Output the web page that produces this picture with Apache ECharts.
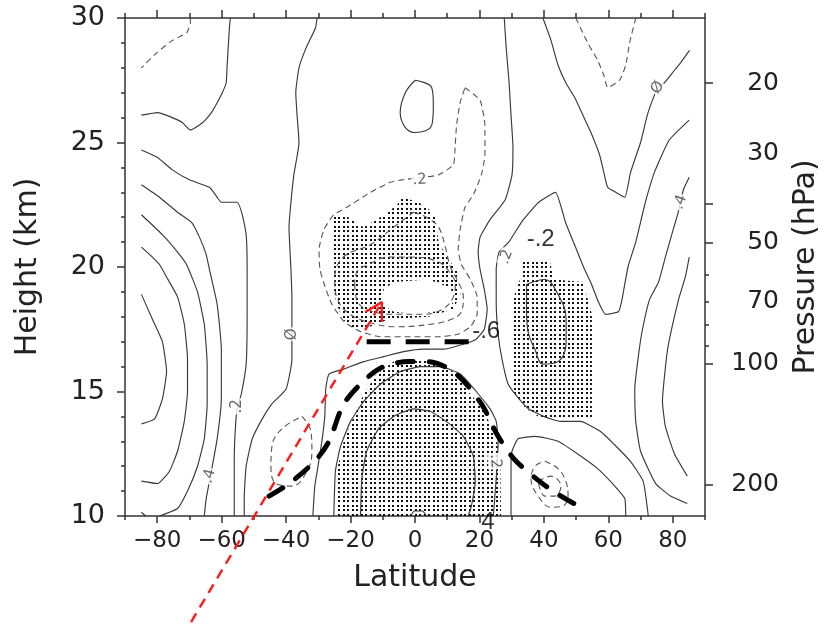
<!DOCTYPE html>
<html><head><meta charset="utf-8">
<script src="https://cdn.jsdelivr.net/npm/echarts@6/dist/echarts.min.js"></script>
<style>html,body{margin:0;padding:0;background:#fff}#c{width:829px;height:624px}</style>
</head><body><div id="c"></div>
<script>
// ================= DATA (latitude in degrees, height in km) =================
const latLabels = [-80, -60, -40, -20, 0, 20, 40, 60, 80];
const latMajorTicks = [-80, -60, -40, -20, 0, 20, 40, 60, 80];
const latMinorTicks = [-90, -70, -50, -30, -10, 10, 30, 50, 70, 90];
const pressureLabels = [20, 30, 50, 70, 100, 200];      // hPa
const pressureMajorTicks = [20, 40, 50, 100, 200];      // hPa
const pressureMinorTicks = [60, 70, 80, 90];            // hPa
const scaleHeightKm = 7;

// solid contours
const c0West = [[-57.3,30],[-57.6,29.6],[-58.3,28.1],[-58.6,27.4],[-59.8,27.0],[-61.4,26.6],[-63.2,26.2],[-65.1,25.9],[-66.9,25.7],[-69.7,25.5],[-72.2,25.8],[-75.3,26.0],[-79.9,26.2],[-84.9,26.1]];
const c02West = [[-84.9,24.7],[-79.9,24.4],[-75.3,23.9],[-70.0,23.5],[-63.8,23.2],[-61.4,22.8],[-60.1,22.6],[-55.2,22.6],[-53.6,22.1],[-52.4,21.3],[-52.1,19.9],[-52.1,18.1],[-52.4,16.1],[-53.9,14.9],[-55.2,14.3],[-55.8,13.4],[-56.1,12.2],[-56.1,10]];
const c04West = [[-84.9,23.3],[-79.3,22.8],[-73.7,22.2],[-69.4,21.8],[-66.9,21.2],[-64.8,20.5],[-63.8,19.9],[-61.4,18.5],[-60.1,16.7],[-60.1,14.7],[-61.4,13.1],[-63.2,11.8],[-64.8,10.7],[-65.4,10]];
const c06West = [[-84.9,22.1],[-78.4,21.3],[-73.7,20.6],[-70.9,20.1],[-67.5,19.0],[-65.4,17.7],[-64.5,16.1],[-64.5,14.5],[-65.4,13.1],[-67.5,12.0],[-70.6,11.0],[-73.7,10.3],[-79.3,10]];
const c08West = [[-84.9,20.8],[-81.5,20.4],[-79.3,20.1],[-77.1,19.6],[-73.7,18.8],[-71.6,17.7],[-70.6,16.3],[-70.6,15.0],[-71.6,13.8],[-73.7,12.6],[-76.2,11.8],[-79.9,11.3],[-84.9,11.4]];
const c10West = [[-84.9,18.9],[-81.5,17.9],[-78.4,17.0],[-77.1,15.8],[-78.4,14.7],[-80.8,13.9],[-84.9,13.7]];
const c06Corner = [[-84.9,10.15],[-83.6,10]];
const c0Central = [[-30.4,30],[-30.9,29.6],[-33.8,28.8],[-36.0,28.0],[-37.0,27.0],[-36.6,26.1],[-36.0,25.0],[-37.6,23.7],[-38.5,22.6],[-39.1,21.6],[-38.5,19.9],[-38.2,18.8],[-38.2,17.4],[-38.2,16.3],[-40.0,15.1],[-44.4,14.5],[-47.4,13.9],[-50.5,13.1],[-52.4,12.0],[-53.0,10.7],[-53.0,10]];
const cTopLoop = [[0.1,27.5],[5.2,27.2],[5.7,26.5],[5.2,25.7],[0.1,25.4],[-3.0,25.6],[-4.6,26.2],[-3.0,27.0],[0.1,27.5]];
const c0Dome = [[27.7,30],[28.3,28.8],[29.2,27.4],[29.8,26.1],[30.4,24.8],[30.1,23.7],[28.0,22.7],[23.3,21.9],[20.2,21.2],[19.6,20.6],[20.2,19.9],[21.5,19.1],[22.4,18.3],[21.5,17.5],[19.0,17.1],[15.0,16.9],[8.8,16.7],[2.6,16.7],[-3.6,16.6],[-9.7,16.4],[-15.9,16.2],[-22.1,15.9],[-26.7,15.7],[-27.7,15.1],[-28.0,14.0],[-28.9,13.0],[-30.1,12.0],[-31.1,11.2],[-31.7,10]];
const c02Dome = [[-25.2,10],[-24.7,11.8],[-23.1,12.8],[-20.0,13.8],[-15.9,14.6],[-10.7,15.3],[-4.5,15.8],[1.7,16.0],[7.9,16.0],[14.1,15.7],[19.0,15.0],[23.3,14.3],[25.2,13.8],[25.8,13.0],[25.2,11.5],[24.3,10]];
const c04Dome = [[-16.9,10],[-16.5,11.5],[-15.0,12.6],[-11.3,13.5],[-6.6,14.0],[-0.5,14.3],[4.8,14.2],[9.7,13.8],[15.0,13.2],[18.1,12.4],[18.7,11.4],[17.5,10.4],[16.5,10]];
const c06Bump = [[-1.4,10],[-0.2,10.2],[2.3,10.2],[3.6,10]];
const c02East = [[85.1,25.9],[78.9,25.1],[74.3,23.8],[71.5,22.6],[68.5,21.0],[66.1,20.0],[64.1,18.6],[63.1,18.2],[59.1,18.1],[56.9,18.6],[54.8,19.3],[52.3,20.0],[49.8,20.8],[46.7,21.8],[43.6,23.0],[38.4,22.6],[33.6,21.9],[29.1,21.0],[26.1,20.6],[25.2,19.9],[25.2,18.6],[25.8,17.3],[27.0,16.3],[28.9,15.3],[32.3,14.7],[35.3,14.3],[39.9,14.0],[45.1,13.8],[51.3,13.8],[57.5,13.4],[62.4,12.8],[66.8,12.2],[70.8,11.4],[72.4,10]];
const c0East = [[39.7,30],[42.2,29.1],[44.4,28.1],[46.8,27.4],[49.6,26.8],[52.1,26.1],[54.6,25.4],[57.3,24.5],[58.6,23.8],[59.8,23.2],[62.3,23.0],[65.1,22.8],[66.9,23.8],[70.0,25.0],[72.1,26.1],[73.7,26.7],[75.3,27.2],[77.4,27.4],[79.9,27.8],[82.4,28.2],[85.2,28.7]];
const c04East = [[85.1,23.6],[83.3,23.1],[82.4,22.6],[81.5,22.1],[79.9,21.4],[77.7,20.4],[75.6,19.4],[72.8,18.7],[70.6,17.5],[69.4,16.5],[68.2,15.1],[68.5,13.8],[70.0,12.6],[74.7,11.3],[79.3,10.8],[84.5,10.5]];
const c06East = [[85.1,20.4],[83.9,19.6],[81.8,18.7],[78.4,16.7],[76.8,14.6],[77.7,13.6],[80.5,12.5],[84.5,11.6]];
const c0LowerEast = [[29.8,10],[29.8,12.0],[30.1,12.6],[32.0,13.1],[37.3,13.2],[44.4,13.0],[51.5,12.4],[56.7,11.9],[62.0,11.2],[65.1,10.7],[65.4,10]];
const c04EastLoop = [[34.6,19.3],[40.2,19.5],[44.4,18.9],[46.9,17.9],[46.9,17.0],[44.4,16.2],[39.7,16.1],[37.2,16.7],[35.1,17.4],[34.6,18.3],[34.6,19.3]];

// dashed (negative) contours
const m02TopWest = [[-69.7,30],[-69.7,29.8],[-70.9,29.4],[-75.3,29.1],[-80.2,28.6],[-84.9,28.0]];
const m02TopEast = [[49.9,30],[53.6,29.0],[56.7,28.3],[58.6,27.7],[59.8,27.2],[63.5,27.5],[65.4,28.1],[66.6,29.0],[68.5,30]];
const m02West = [[-35.1,14.0],[-32.3,13.4],[-32.0,12.6],[-33.5,11.8],[-38.2,11.2],[-43.1,11.3],[-44.7,11.9],[-44.4,12.8],[-41.3,13.5],[-35.1,14.0]];
const m02Central = [[15.5,27.2],[20.2,26.7],[21.7,25.7],[21.7,24.5],[20.6,23.7],[18.1,22.9],[15.5,22.4],[14.0,21.5],[13.4,20.7],[14.4,20.1],[17.2,19.5],[19.3,18.8],[19.3,18.1],[17.2,17.6],[13.4,17.3],[7.3,17.2],[-2.0,17.2],[-10.7,17.2],[-16.8,17.4],[-22.0,17.8],[-25.8,18.5],[-27.9,19.2],[-29.5,19.9],[-29.8,20.7],[-28.3,21.5],[-25.2,22.1],[-21.1,22.4],[-13.8,23.0],[-7.7,23.4],[-4.1,23.5],[2.6,23.6],[7.3,23.7],[11.9,24.1],[12.4,24.7],[12.9,25.7],[14.0,26.6],[15.5,27.2]];
const m04Central = [[-0.5,22.2],[3.5,22.0],[7.3,21.6],[9.4,20.8],[11.0,20.0],[13.4,19.4],[15.0,18.8],[14.4,18.2],[11.3,17.9],[4.8,17.7],[-5.7,17.6],[-15.0,17.8],[-21.2,18.2],[-24.3,18.8],[-24.9,19.4],[-24.3,20.0],[-21.2,20.5],[-13.8,20.9],[-6.6,21.6],[-0.5,22.2]];
const m06Central = [[-18.7,19.3],[-17.8,18.6],[-12.8,18.2],[-5.7,18.1],[2.6,18.1],[8.5,18.3],[11.9,18.8],[12.5,19.3],[10.7,19.8],[7.3,20.2],[-0.5,20.4],[-8.2,20.4],[-14.4,20.1],[-18.1,19.8],[-18.7,19.3]];
const m02East = [[40.3,12.2],[44.4,11.9],[46.8,11.4],[47.5,10.8],[45.9,10.4],[42.2,10.35],[38.2,10.8],[36.0,11.5],[37.3,12.0],[40.3,12.2]];
const m04East = [[38.2,11.4],[42.2,11.6],[45.3,11.2],[43.4,10.8],[40.3,10.8],[38.2,11.4]];

// stippled (significant) regions and unstippled hole
const stippleNorthWest = [[-25.8,22.0],[-22.0,22.1],[-16.0,21.6],[-9.5,22.1],[-5.5,22.5],[-3.9,22.8],[1.1,22.6],[4.5,22.3],[6.3,22.0],[7.3,21.0],[10.4,20.3],[13.4,19.8],[14.1,18.9],[11.9,18.3],[4.2,18.0],[-8.2,17.9],[-14.0,17.6],[-19.0,17.5],[-22.5,17.9],[-24.3,18.5],[-25.5,19.3],[-25.0,20.2],[-25.8,21.0]];
const stippleHole = [[-9.7,19.1],[-6.6,19.4],[4.2,19.5],[10.4,19.2],[12.8,18.8],[10.4,18.3],[1.1,18.1],[-6.6,18.2],[-10.4,18.5]];
const stippleEast = [[33.5,20.2],[41.9,20.2],[43.1,19.5],[52.1,19.4],[53.6,18.7],[54.9,18.1],[54.9,13.9],[44.4,13.9],[38.2,14.0],[34.5,14.3],[30.8,14.9],[29.8,17.1],[30.4,18.7],[32.6,19.5]];
const stippleTropics = [[-24.3,10],[-24.3,11.8],[-22.1,13.0],[-19.0,14.0],[-15.9,14.9],[-11.9,15.7],[-6.6,16.2],[0.5,16.3],[7.3,16.2],[12.8,15.7],[16.5,15.0],[21.2,14.3],[24.3,13.4],[26.4,12.6],[26.7,10]];

// tropopause-like thick dashed markers
const thickArc = [[-45.3,10.8],[-39.1,11.3],[-31.1,12.2],[-26.7,13.0],[-22.1,14.5],[-15.3,15.5],[-9.7,16.0],[-2.0,16.2],[4.2,16.2],[12.8,15.7],[20.6,14.5],[25.8,13.2],[31.4,12.2],[42.8,11.0],[53.6,10.2]];
const thickLevel = [[-15.0,17.0],[17.2,17.0]];

// red arrow
const redArrowLine = [[-69.5,5.74],[-10.3,18.59]];
const redArrowHead = [[-15.4,18.19],[-10.3,18.59],[-10.3,17.79]];

// contour labels [text, lat, km]
const contourLabels = [['Ø',-38.2,17.3],['.2',-55.1,14.4],['.4',-63.8,11.6],['.2',1.4,23.5],['Ø',75.3,27.2],['.4',82.4,22.6],['.2',24.9,12.2],['.2',28.3,20.4]];
// annotation texts [text, lat, km]
const annotations = [['-.2',39.0,21.1],['-.6',22.1,17.4],['4',22.6,9.73]];

// ================= STYLE / BUILD =================
const labelRotate = [90, 90, 75, 4, 55, 70, -85, 70];
const solidSet = [c0West,c02West,c04West,c06West,c08West,c10West,c06Corner,c0Central,cTopLoop,c0Dome,c02Dome,c04Dome,c06Bump,c02East,c0East,c04East,c06East,c0LowerEast,c04EastLoop];
const dashedSet = [m02TopWest,m02TopEast,m02West,m02Central,m04Central,m06Central,m02East,m04East];
const loopSet = new Set([cTopLoop,c04EastLoop,m02West,m06Central,m04Central,m02East,m04East]);

const kmOfP = p => scaleHeightKm * Math.log(1000 / p);
const font = 'DejaVu Sans';

function contour(data, dashed) {
  return {
    type: 'line', data: data, showSymbol: false, silent: true, z: 3,
    smooth: loopSet.has(data) ? 0.4 : 0.15,
    lineStyle: dashed ? {color: '#555', width: 1.1, type: [6, 4]} : {color: '#3a3a3a', width: 1.15}
  };
}

const dotCanvas = document.createElement('canvas');
dotCanvas.width = 9; dotCanvas.height = 9;
(function () {
  const g = dotCanvas.getContext('2d'); g.fillStyle = '#111';
  g.fillRect(1, 1, 2, 2); g.fillRect(5, 1, 2, 2); g.fillRect(1, 5, 2, 2); g.fillRect(5, 5, 2, 2);
})();
const dotPattern = {image: dotCanvas, repeat: 'repeat'};

function polySeries(polys, fill, z) {
  return {
    type: 'custom', silent: true, z: z, clip: true,
    data: polys.map(p => p[0]),
    renderItem: function (params, api) {
      const poly = polys[params.dataIndex];
      return {type: 'polygon', shape: {points: poly.map(pt => api.coord(pt))}, style: {fill: fill}};
    }
  };
}

const series = [];
series.push(polySeries([stippleNorthWest, stippleEast, stippleTropics], dotPattern, 1));
series.push(polySeries([stippleHole], '#fff', 2));
solidSet.forEach(d => series.push(contour(d, false)));
dashedSet.forEach(d => series.push(contour(d, true)));
series.push({type: 'line', data: thickArc, showSymbol: false, silent: true, z: 4, smooth: 0.3,
  lineStyle: {color: '#000', width: 5, type: [16, 16], cap: 'round'}});
series.push({type: 'line', data: thickLevel, showSymbol: false, silent: true, z: 4,
  lineStyle: {color: '#000', width: 5, type: [24, 15], cap: 'butt'}});
series.push({type: 'line', data: redArrowLine, showSymbol: false, silent: true, z: 7, clip: false,
  lineStyle: {color: '#ff1a1a', width: 2.4, type: [10, 7]}});
series.push({type: 'line', data: redArrowHead, showSymbol: false, silent: true, z: 7, clip: false,
  lineStyle: {color: '#ff1a1a', width: 2.4}});
series.push({type: 'scatter', silent: true, z: 5, clip: false, symbolSize: 1,
  itemStyle: {color: 'rgba(0,0,0,0)'},
  data: contourLabels.map((l, i) => ({value: [l[1], l[2]], label: {formatter: l[0], rotate: labelRotate[i]}})),
  label: {show: true, position: 'inside', fontFamily: font, fontSize: 15, color: '#444', backgroundColor: '#fff', padding: [0, 1]}});
series.push({type: 'scatter', silent: true, z: 6, clip: false, symbolSize: 1,
  itemStyle: {color: 'rgba(0,0,0,0)'},
  data: annotations.map(a => ({value: [a[1], a[2]], label: {formatter: a[0]}})),
  label: {show: true, position: 'inside', fontFamily: 'Liberation Sans', fontSize: 24, color: '#000'}});

const axisLineStyle = {color: '#333', width: 1.5};
const fmtLat = v => (v < 0 ? '\u2212' + (-v) : String(v));

const option = {
  backgroundColor: '#fff',
  animation: false,
  grid: {left: 125, top: 18, right: 122, bottom: 108, containLabel: false},
  xAxis: [
    {type: 'value', position: 'bottom', min: -90, max: 90,
      name: 'Latitude', nameLocation: 'middle', nameGap: 47,
      nameTextStyle: {fontFamily: font, fontSize: 30, color: '#222'},
      axisLine: {show: true, onZero: false, lineStyle: axisLineStyle},
      axisTick: {show: true, inside: false, length: 7, customValues: latMajorTicks, lineStyle: axisLineStyle},
      axisLabel: {customValues: latLabels, formatter: fmtLat, fontFamily: font, fontSize: 23, color: '#222', margin: 14},
      splitLine: {show: false}},
    {type: 'value', position: 'bottom', min: -90, max: 90,
      axisLine: {show: false, onZero: false}, axisLabel: {show: false}, splitLine: {show: false},
      axisTick: {show: true, length: 4, customValues: latMinorTicks, lineStyle: axisLineStyle}},
    {type: 'value', position: 'top', min: -90, max: 90,
      axisLine: {show: true, onZero: false, lineStyle: axisLineStyle}, axisLabel: {show: false}, splitLine: {show: false},
      axisTick: {show: true, length: 8, customValues: latMajorTicks, lineStyle: axisLineStyle}},
    {type: 'value', position: 'top', min: -90, max: 90,
      axisLine: {show: false, onZero: false}, axisLabel: {show: false}, splitLine: {show: false},
      axisTick: {show: true, length: 5, customValues: latMinorTicks, lineStyle: axisLineStyle}}
  ],
  yAxis: [
    {type: 'value', position: 'left', min: 10, max: 30, interval: 5,
      name: 'Height (km)', nameLocation: 'middle', nameGap: 82, nameRotate: 90,
      nameTextStyle: {fontFamily: font, fontSize: 30, color: '#222'},
      axisLine: {show: true, onZero: false, lineStyle: axisLineStyle},
      axisTick: {show: true, inside: false, length: 8, lineStyle: axisLineStyle},
      minorTick: {show: true, splitNumber: 5, length: 4, lineStyle: axisLineStyle},
      axisLabel: {fontFamily: font, fontSize: 27, color: '#222', margin: 20},
      splitLine: {show: false}, minorSplitLine: {show: false}},
    {type: 'value', position: 'right', min: 10, max: 30,
      name: 'Pressure (hPa)', nameLocation: 'middle', nameGap: 86, nameRotate: 90,
      nameTextStyle: {fontFamily: font, fontSize: 30, color: '#222'},
      axisLine: {show: true, onZero: false, lineStyle: axisLineStyle},
      axisTick: {show: true, inside: false, length: 8, customValues: pressureMajorTicks.map(kmOfP), lineStyle: axisLineStyle},
      axisLabel: {customValues: pressureLabels.map(kmOfP), formatter: v => String(Math.round(1000 * Math.exp(-v / scaleHeightKm))),
        fontFamily: font, fontSize: 25, color: '#222', margin: 74, align: 'right'},
      splitLine: {show: false}},
    {type: 'value', position: 'right', min: 10, max: 30,
      axisLine: {show: false, onZero: false}, axisLabel: {show: false}, splitLine: {show: false},
      axisTick: {show: true, length: 4, customValues: pressureMinorTicks.map(kmOfP), lineStyle: axisLineStyle}}
  ],
  series: series
};

const chart = echarts.init(document.getElementById('c'), null, {renderer: 'canvas'});
chart.setOption(option);
</script>
</body></html>
